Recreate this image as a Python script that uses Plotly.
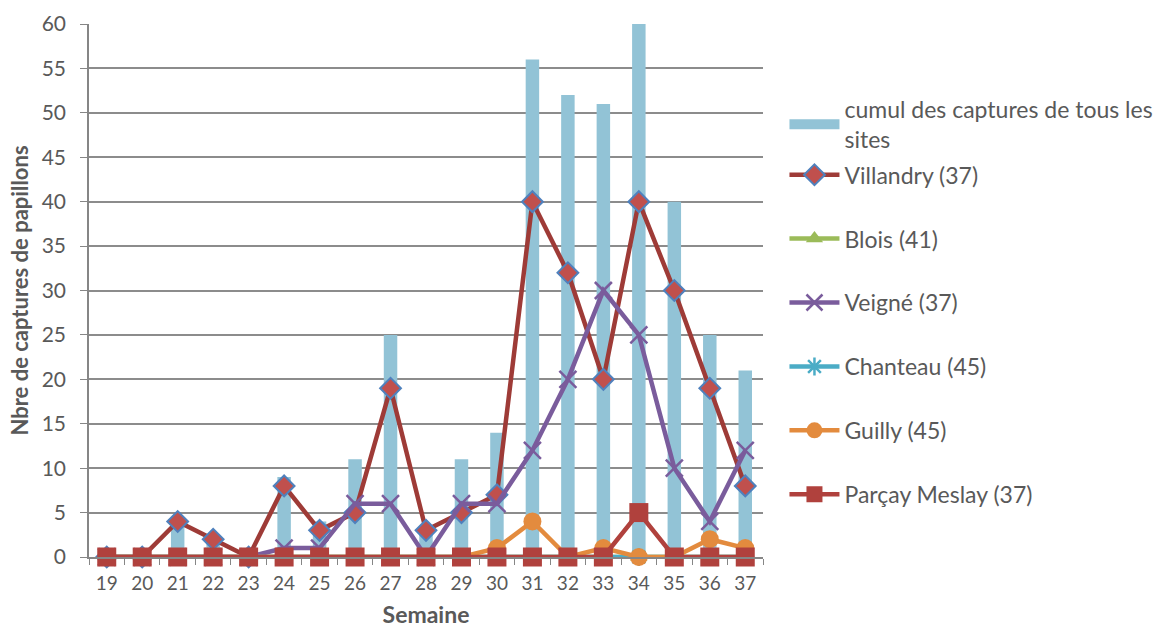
import plotly.graph_objects as go

weeks = [str(w) for w in range(19, 38)]
cumul = [0, 0, 4, 2, 0, 9, 4, 11, 25, 3, 11, 14, 56, 52, 51, 60, 40, 25, 21]
villandry = [0, 0, 4, 2, 0, 8, 3, 5, 19, 3, 5, 7, 40, 32, 20, 40, 30, 19, 8]
blois = [0] * 19
veigne = [0, 0, 0, 0, 0, 1, 1, 6, 6, 0, 6, 6, 12, 20, 30, 25, 10, 4, 12]
chanteau = [0] * 19
guilly = [0, 0, 0, 0, 0, 0, 0, 0, 0, 0, 0, 1, 4, 0, 1, 0, 0, 2, 1]
parcay = [0, 0, 0, 0, 0, 0, 0, 0, 0, 0, 0, 0, 0, 0, 0, 5, 0, 0, 0]

FONT = "Lato, 'Open Sans', sans-serif"
GREY = "#595959"
BARCOL = "#92C3D6"

fig = go.Figure()
fig.add_trace(go.Bar(x=weeks, y=cumul, name="cumul des captures de tous les<br>sites",
                     marker=dict(color=BARCOL, line=dict(width=0)), showlegend=False))
# legend proxy for the bar series (wide rectangle like the original)
fig.add_trace(go.Scatter(x=[weeks[0]], y=[None], name="cumul des captures de tous les<br>sites",
                         mode="lines", line=dict(color=BARCOL, width=13), legend="legend2"))
fig.add_trace(go.Scatter(x=weeks, y=villandry, name="Villandry (37)", mode="lines+markers",
                         line=dict(color="#9E3B37", width=4.5), cliponaxis=False,
                         marker=dict(symbol="diamond", size=16, color="#C0504D",
                                     line=dict(color="#4F81BD", width=2)), legendgroup="b"))
fig.add_trace(go.Scatter(x=weeks, y=blois, name="Blois (41)", mode="lines+markers",
                         line=dict(color="#9BBB59", width=4.5), cliponaxis=False,
                         marker=dict(symbol="triangle-up", size=15, color="#9BBB59"), legendgroup="c"))
fig.add_trace(go.Scatter(x=weeks, y=veigne, name="Veigné (37)", mode="lines+markers",
                         line=dict(color="#7A5C9C", width=4.5), cliponaxis=False,
                         marker=dict(symbol="x-thin", size=17, color="#7A5C9C",
                                     line=dict(color="#7A5C9C", width=2.5)), legendgroup="d"))
fig.add_trace(go.Scatter(x=weeks, y=chanteau, name="Chanteau (45)", mode="lines+markers",
                         line=dict(color="#4BACC6", width=4.5), cliponaxis=False,
                         marker=dict(symbol="asterisk", size=15, color="#4BACC6",
                                     line=dict(color="#4BACC6", width=2.5)), legendgroup="e"))
fig.add_trace(go.Scatter(x=weeks, y=guilly, name="Guilly (45)", mode="lines+markers",
                         line=dict(color="#E38B3E", width=4.5), cliponaxis=False,
                         marker=dict(symbol="circle", size=18, color="#E38B3E"), legendgroup="f"))
fig.add_trace(go.Scatter(x=weeks, y=parcay, name="Parçay Meslay (37)", mode="lines+markers",
                         line=dict(color="#B0413D", width=4.5), cliponaxis=False,
                         marker=dict(symbol="square", size=19, color="#B0413D"), legendgroup="g"))

fig.update_layout(
    width=1156, height=628,
    margin=dict(l=89, r=393, t=24, b=71, autoexpand=False),
    paper_bgcolor="white", plot_bgcolor="white",
    font=dict(family=FONT, color=GREY, size=20),
    bargap=0.62,
    showlegend=True,
    legend=dict(x=0.6786, xref="container", y=0.7575, xanchor="left", yanchor="top",
                font=dict(size=23, color=GREY, family=FONT),
                tracegroupgap=31, itemwidth=50, traceorder="grouped"),
    legend2=dict(x=0.6786, xref="container", y=0.880, xanchor="left", yanchor="top",
                 font=dict(size=23, color=GREY, family=FONT), itemwidth=50),
)
fig.update_xaxes(type="category", categoryorder="array", categoryarray=weeks,
                 range=[-0.5, len(weeks) - 0.5],
                 showline=True, linecolor="#868686", linewidth=1.5,
                 ticks="outside", tickson="boundaries", ticklen=6, tickcolor="#868686",
                 tickfont=dict(size=19, color=GREY), showgrid=False, automargin=False,
                 ticklabelstandoff=8,
                 title=dict(text="<b>Semaine</b>", font=dict(size=23, color=GREY), standoff=25))
fig.update_yaxes(range=[0, 60], dtick=5, showline=True, linecolor="#868686", linewidth=1.5,
                 ticks="outside", ticklen=7, tickcolor="#868686", automargin=False,
                 showgrid=True, gridcolor="#8C8C8C", gridwidth=1.5, zeroline=False,
                 tickfont=dict(size=21, color=GREY), ticklabelstandoff=10,
                 title=dict(text="<b>Nbre de captures de papillons</b>", font=dict(size=22, color=GREY), standoff=7))

fig.write_html("out.html", config={"displayModeBar": False},
               post_script="document.body.style.margin='0px';")
